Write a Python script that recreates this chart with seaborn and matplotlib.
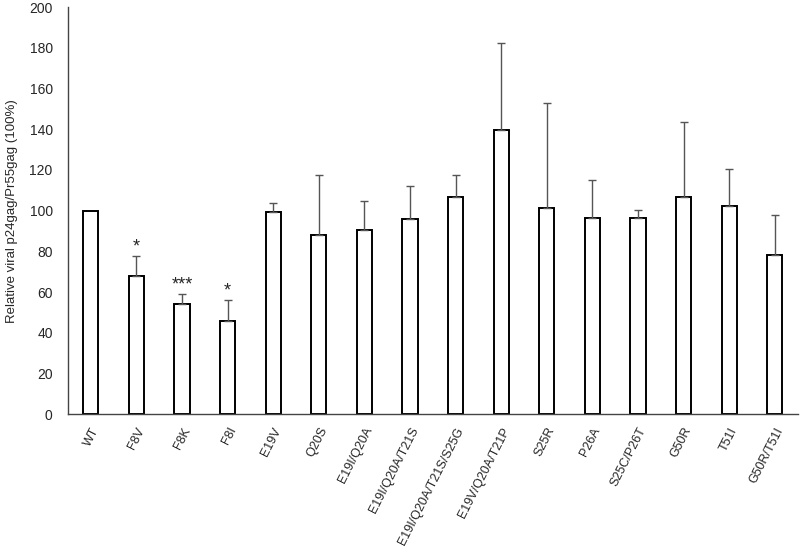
import matplotlib
matplotlib.use("Agg")
import matplotlib.pyplot as plt
import numpy as np
import pandas as pd
import seaborn as sns

sns.set_theme(style="white")
plt.rcParams["font.family"] = ["Liberation Sans", "DejaVu Sans"]

mutants = ["WT", "F8V", "F8K", "F8I", "E19V", "Q20S", "E19I/Q20A", "E19I/Q20A/T21S",
           "E19I/Q20A/T21S/S25G", "E19V/Q20A/T21P", "S25R", "P26A", "S25C/P26T",
           "G50R", "T51I", "G50R/T51I"]
ratio = [100, 67.8, 54, 46, 99.5, 87.9, 90.6, 96.1, 106.5, 139.4, 101.5, 96.6, 96.4,
         106.9, 102.1, 78.4]
sd = [0, 10, 5, 10.2, 4.5, 29.6, 14, 15.9, 11, 42.8, 51.2, 18.4, 3.9, 36.5, 18.5, 19.3]
stars = ["", "*", "***", "*", "", "", "", "", "", "", "", "", "", "", "", ""]

df = pd.DataFrame({"mutant": mutants, "ratio": ratio, "sd": sd})

fig = plt.figure(figsize=(8, 5.5), dpi=100)
ax = fig.add_axes([0.085, 0.247, 0.912, 0.74])

sns.barplot(data=df, x="mutant", y="ratio", color="white", edgecolor="black",
            linewidth=1.4, width=0.33, errorbar=None, ax=ax)

x = np.arange(len(mutants))
has_err = df["sd"].values > 0
ax.errorbar(x[has_err], df["ratio"].values[has_err],
            yerr=[np.zeros(has_err.sum()), df["sd"].values[has_err]],
            fmt="none", ecolor="#555555", elinewidth=1, capsize=3, capthick=1)

for i, s in enumerate(stars):
    if s:
        ax.text(i, ratio[i] + sd[i] + 0.3, s, ha="center", va="bottom", fontsize=13)

ax.set_xlim(-0.5, len(mutants) - 0.5)
ax.set_ylim(0, 200)
ax.set_yticks(range(0, 201, 20))
ax.set_xticks(x)
ax.set_xticklabels(mutants, rotation=63, ha="right", rotation_mode="anchor", fontsize=9)
ax.set_xticks(np.arange(-0.5, len(mutants)), minor=True)
ax.tick_params(axis="x", which="major", length=0, pad=8)
ax.tick_params(axis="x", which="minor", direction="in", length=4, width=0.8, color="#444444")
ax.tick_params(axis="y", direction="in", length=4, width=0.8, color="#444444",
               labelsize=10, pad=11)
ax.set_xlabel("")
ax.set_ylabel("Relative viral p24gag/Pr55gag (100%)", fontsize=9.5, labelpad=8)

sns.despine(ax=ax)
for sp in ["left", "bottom"]:
    ax.spines[sp].set_color("#444444")
    ax.spines[sp].set_linewidth(1)

fig.savefig("out.png", dpi=100)
